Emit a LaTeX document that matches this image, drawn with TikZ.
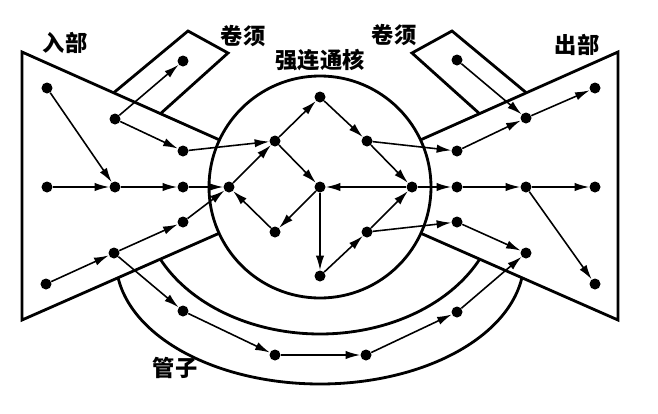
\documentclass[tikz,border=0pt]{standalone}
\usepackage{fontspec}
\newfontfamily\cjk{Noto Sans CJK SC}
\usetikzlibrary{arrows.meta}
\begin{document}
\begin{tikzpicture}[x=0.03cm,y=-0.03cm,
  dot/.style={circle,fill=black,inner sep=0pt,minimum size=0.33cm},
  arr/.style={-{Latex[length=4.4mm,width=2.5mm]},line width=1.35pt},
  outline/.style={line width=2.4pt,line join=miter},
  lab/.style={font=\cjk\bfseries\fontsize{19}{19}\selectfont,inner sep=0pt}]
\useasboundingbox (0,0) rectangle (658,414);
% in- and out-sets
\draw[outline] (250,153.5) -- (22,52) -- (22,320) -- (250,219.7);
\draw[outline] (390,153.5) -- (618,52) -- (618,320) -- (390,219.7);
% tendrils
\draw[outline] (114,92.5) -- (188,31) -- (228,53) -- (161,113.2);
\draw[outline] (526,92.5) -- (452,31) -- (412,53) -- (479,113.2);
% tube
\draw[outline] plot[domain=206.3:333.7,samples=80,smooth] ({320+178*cos(\x)},{200-134*sin(\x)});
\draw[outline] plot[domain=188.2:351.8,samples=80,smooth] ({320+204*cos(\x)},{260-124*sin(\x)});
% core
\draw[outline,fill=white] (320,187) circle[radius=3.33cm];
% nodes: in-set
\node[dot] (i1) at (47,88) {};
\node[dot] (i2) at (115,119) {};
\node[dot] (i3) at (183,61) {};
\node[dot] (i4) at (183,151) {};
\node[dot] (i5) at (47,187) {};
\node[dot] (i6) at (115,187) {};
\node[dot] (i7) at (183,187) {};
\node[dot] (i8) at (46,284) {};
\node[dot] (i9) at (114,253) {};
\node[dot] (i10) at (183,222) {};
% core nodes
\node[dot] (cT) at (320,97) {};
\node[dot] (cUL) at (275,141) {};
\node[dot] (cUR) at (367,141) {};
\node[dot] (cL) at (229,187) {};
\node[dot] (cC) at (320,187) {};
\node[dot] (cR) at (412,187) {};
\node[dot] (cLL) at (275,232) {};
\node[dot] (cLR) at (367,232) {};
\node[dot] (cB) at (320,276) {};
% out-set
\node[dot] (o1) at (457,60) {};
\node[dot] (o2) at (526,118) {};
\node[dot] (o3) at (595,88) {};
\node[dot] (o4) at (457,151) {};
\node[dot] (o5) at (457,187) {};
\node[dot] (o6) at (526,187) {};
\node[dot] (o7) at (595,187) {};
\node[dot] (o8) at (457,222) {};
\node[dot] (o9) at (526,253) {};
\node[dot] (o10) at (595,284) {};
% tube nodes
\node[dot] (t1) at (183,311) {};
\node[dot] (t2) at (275,355) {};
\node[dot] (t3) at (366,355) {};
\node[dot] (t4) at (457,312) {};
% arrows in-set
\draw[arr] (i1) -- (i6);
\draw[arr] (i2) -- (i3);
\draw[arr] (i2) -- (i4);
\draw[arr] (i4) -- (cUL);
\draw[arr] (i5) -- (i6);
\draw[arr] (i6) -- (i7);
\draw[arr] (i7) -- (cL);
\draw[arr] (i8) -- (i9);
\draw[arr] (i9) -- (i10);
\draw[arr] (i10) -- (cL);
\draw[arr] (i9) -- (t1);
% core arrows
\draw[arr] (cUL) -- (cT);
\draw[arr] (cT) -- (cUR);
\draw[arr] (cUR) -- (cR);
\draw[arr] (cUL) -- (cC);
\draw[arr] (cL) -- (cUL);
\draw[arr] (cC) -- (cLL);
\draw[arr] (cLL) -- (cL);
\draw[arr] (cR) -- (cC);
\draw[arr] (cC) -- (cB);
\draw[arr] (cB) -- (cLR);
\draw[arr] (cLR) -- (cR);
% out-set arrows
\draw[arr] (cUR) -- (o4);
\draw[arr] (o4) -- (o2);
\draw[arr] (o1) -- (o2);
\draw[arr] (o2) -- (o3);
\draw[arr] (cR) -- (o5);
\draw[arr] (o5) -- (o6);
\draw[arr] (o6) -- (o7);
\draw[arr] (o6) -- (o10);
\draw[arr] (cLR) -- (o8);
\draw[arr] (o8) -- (o9);
% tube arrows
\draw[arr] (t1) -- (t2);
\draw[arr] (t2) -- (t3);
\draw[arr] (t3) -- (t4);
\draw[arr] (t4) -- (o9);
% labels
\node[lab] (lin) at (65,43) {入部};
\node[lab] (lt1) at (243,36) {卷须};
\node[lab] (lcore) at (320,60) {强连通核};
\node[lab] (lt2) at (394,35) {卷须};
\node[lab] (lout) at (577,45) {出部};
\node[lab] (ltube) at (175,368) {管子};
\end{tikzpicture}
\end{document}
